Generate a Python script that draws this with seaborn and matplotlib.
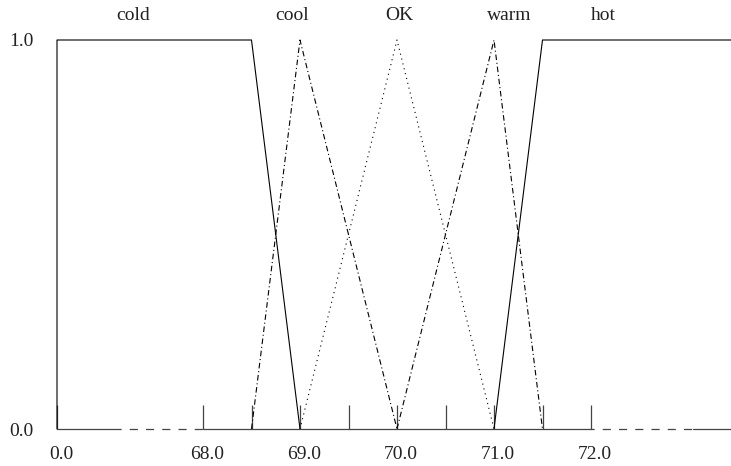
import numpy as np
import pandas as pd
import matplotlib
matplotlib.use("Agg")
import matplotlib.pyplot as plt
import matplotlib.transforms as mtransforms
import seaborn as sns

# membership functions (temperature -> degree)
cold_x = [0.0, 0.0, 68.5, 69.0]
cold_y = [0.0, 1.0, 1.0, 0.0]
cool_x = [68.5, 69.0, 70.0]
cool_y = [0.0, 1.0, 0.0]
ok_x = [69.0, 70.0, 71.0]
ok_y = [0.0, 1.0, 0.0]
warm_x = [70.0, 71.0, 71.5]
warm_y = [0.0, 1.0, 0.0]
hot_x = [71.0, 71.5, 100.0]
hot_y = [0.0, 1.0, 1.0]

set_names = ["cold", "cool", "OK", "warm", "hot"]
xtick_vals = [0.0, 68.0, 69.0, 70.0, 71.0, 72.0]
mark_vals = [68.0, 68.5, 69.0, 69.5, 70.0, 70.5, 71.0, 71.5, 72.0]
ytick_vals = [0.0, 1.0]

# broken axis: everything below 68 collapses to the left edge, above 72 to the right
X_LO = 68.0 - 146 / 97
X_HI = 72.0 + 140 / 97


def pos(v):
    if v < 68.0:
        return X_LO
    if v > 72.0:
        return X_HI
    return v


rows = []
for name, xs, ys in zip(set_names,
                        [cold_x, cool_x, ok_x, warm_x, hot_x],
                        [cold_y, cool_y, ok_y, warm_y, hot_y]):
    for x, y in zip(xs, ys):
        rows.append({"set": name, "x": pos(x), "mu": y})
df = pd.DataFrame(rows)

sns.set_theme(style="white")
plt.rcParams["font.family"] = ["Liberation Serif", "DejaVu Serif"]
plt.rcParams["font.size"] = 14

fig = plt.figure(figsize=(7.31, 4.66), dpi=100)
ax = fig.add_axes([57 / 731, 37 / 466, 674 / 731, 389 / 466])

dash_dot = (5, 2.5, 1, 2.5)
sns.lineplot(data=df, x="x", y="mu", style="set", units="set", estimator=None,
             sort=False, color="black", linewidth=0.8,
             dashes={"cold": "", "cool": dash_dot, "OK": (1, 3.5),
                     "warm": dash_dot, "hot": ""},
             legend=False, ax=ax, clip_on=False)

# baseline with dashed breaks
base_kw = dict(color="#444444", linewidth=0.9, clip_on=False)
ax.plot([X_LO, X_LO + 56 / 97], [0, 0], **base_kw)
ax.plot([X_LO + 56 / 97, 68.0], [0, 0], linestyle=(0, (6.5, 6.5)), **base_kw)
ax.plot([68.0, 72.0], [0, 0], **base_kw)
ax.plot([72.0, 72.0 + 102 / 97], [0, 0], linestyle=(4, (6.5, 6.5)), **base_kw)
ax.plot([72.0 + 102 / 97, X_HI], [0, 0], **base_kw)

ax.set_xlim(X_LO, X_HI)
ax.set_ylim(0, 1)
for s in ax.spines.values():
    s.set_visible(False)

# tick marks every 0.5 between 68 and 72, labels only on whole degrees and 0.0
tick_pos = [X_LO] + mark_vals
tick_lab = ["0.0"] + [f"{v:.1f}" if v in xtick_vals else "" for v in mark_vals]
ax.set_xticks(tick_pos)
ax.set_xticklabels(tick_lab)
ax.set_yticks(ytick_vals)
ax.set_yticklabels([f"{v:.1f}" for v in ytick_vals])
ax.tick_params(axis="x", direction="in", length=17.5, width=0.9, color="#444444",
               bottom=True, pad=12, labelsize=14, labelcolor="#222222")
ax.tick_params(axis="y", length=0, pad=17, labelsize=14, labelcolor="#222222")
shift = mtransforms.ScaledTranslation(4 / 100, 0, fig.dpi_scale_trans)
for lab in ax.get_xticklabels():
    lab.set_transform(lab.get_transform() + shift)
ax.set_xlabel("")
ax.set_ylabel("")

# set names above the curves
label_x = [67.28, 68.92, 70.02, 71.16, 72.13]
for name, lx in zip(set_names, label_x):
    ax.text(lx, 1.064, name, ha="center", va="center", fontsize=14, color="#222222")

fig.savefig("out.png", dpi=100)
